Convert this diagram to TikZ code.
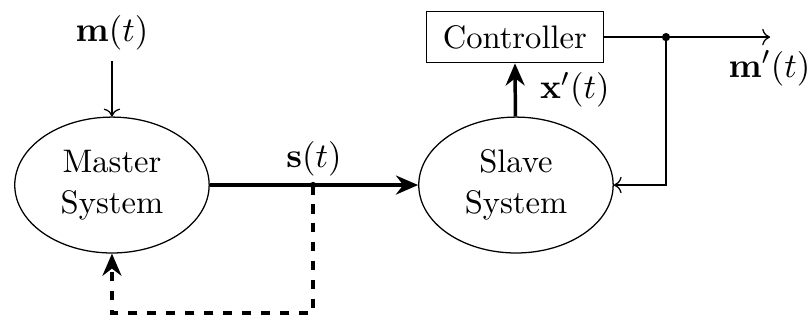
\documentclass[tikz,border=0pt]{standalone}
\usepackage{amsmath}
\usetikzlibrary{arrows.meta,shapes.geometric}

\begin{document}
\begin{tikzpicture}[font=\fontsize{10.3}{13}\selectfont,
        sys/.style={draw, ellipse, minimum width=2.16cm, minimum height=1.51cm, align=center, inner sep=0pt},
        ctrlbox/.style={draw, rectangle, minimum width=1.97cm, minimum height=0.57cm, inner sep=0pt},
        sig/.style={font=\fontsize{11.3}{13.5}\selectfont},
        bold/.style={-{Stealth[length=7pt,width=6pt]}, line width=1.1pt},
        fb/.style={bold, dashed}]
        \useasboundingbox (0,0) rectangle (9,3.556);

        \node[sys] (master) at (1.244,1.5) {Master\\System};
        \node[sys] (slave) at (5.733,1.5) {Slave\\System};
        \node[ctrlbox] (ctrl) at (5.72,3.144) {Controller};

        \node[sig] (m) at (1.244,3.19) {$\mathbf{m}(t)$};
        \coordinate (tap) at (3.478,1.5);
        \coordinate (low) at (3.478,0.078);
        \coordinate (split) at (7.4,3.144);
        \coordinate (out) at (8.556,3.144);

        \draw[->] (m) -- (master);
        \draw[bold] (master) -- (slave) node[sig, pos=0.5, above=-1pt] {$\mathbf{s}(t)$};
        \draw[fb] (tap) -- (low) -| (master.south);
        \draw[bold] (slave) -- (ctrl) node[sig, pos=0.5, right=4pt] {$\mathbf{x}'(t)$};
        \draw[->] (ctrl) -- (out);
        \draw[->] (split) |- (slave.east);
        \fill (split) circle (1.3pt);
        \fill (tap) circle (1pt);

        \node[sig] (mp) at (8.55,2.8) {$\mathbf{m}'(t)$};
    \end{tikzpicture}
\end{document}
